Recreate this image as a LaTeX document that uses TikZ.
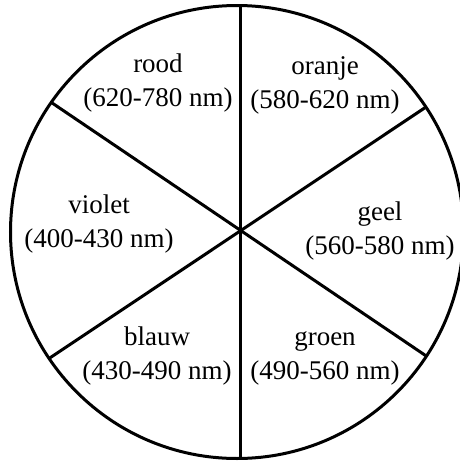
\documentclass[tikz,border=0pt]{standalone}
\usepackage{fontspec}
\setmainfont{Liberation Serif}
\tikzset{
  kleur/.style={align=center, font=\fontsize{27}{34}\selectfont, inner sep=0pt},
  rand/.style={line width=3pt},
}
\begin{document}
\begin{tikzpicture}[x=1pt, y=-1pt]
\useasboundingbox (0,0) rectangle (460,461);

% cirkel
\coordinate (m) at (237,232);
\draw[rand] (m) circle [radius=226.5pt];

% scheidingslijnen
\coordinate (boven) at (240,5.5);
\coordinate (onder) at (240,458.5);
\coordinate (linksboven) at (51.7,102.7);
\coordinate (rechtsonder) at (427.3,356.7);
\coordinate (rechtsboven) at (425,107.7);
\coordinate (linksonder) at (49.3,358.3);
\draw[rand] (boven) -- (onder);
\draw[rand] (linksboven) -- (rechtsonder);
\draw[rand] (rechtsboven) -- (linksonder);

% kleuren
\node[kleur] (rood)   at (158,83)  {rood\\(620-780 nm)};
\node[kleur] (oranje) at (325,85)  {oranje\\(580-620 nm)};
\node[kleur] (violet) at (99,224)  {violet\\(400-430 nm)};
\node[kleur] (geel)   at (380,231) {geel\\(560-580 nm)};
\node[kleur] (blauw)  at (157,356) {blauw\\(430-490 nm)};
\node[kleur] (groen)  at (325,358) {groen\\(490-560 nm)};
\end{tikzpicture}
\end{document}
